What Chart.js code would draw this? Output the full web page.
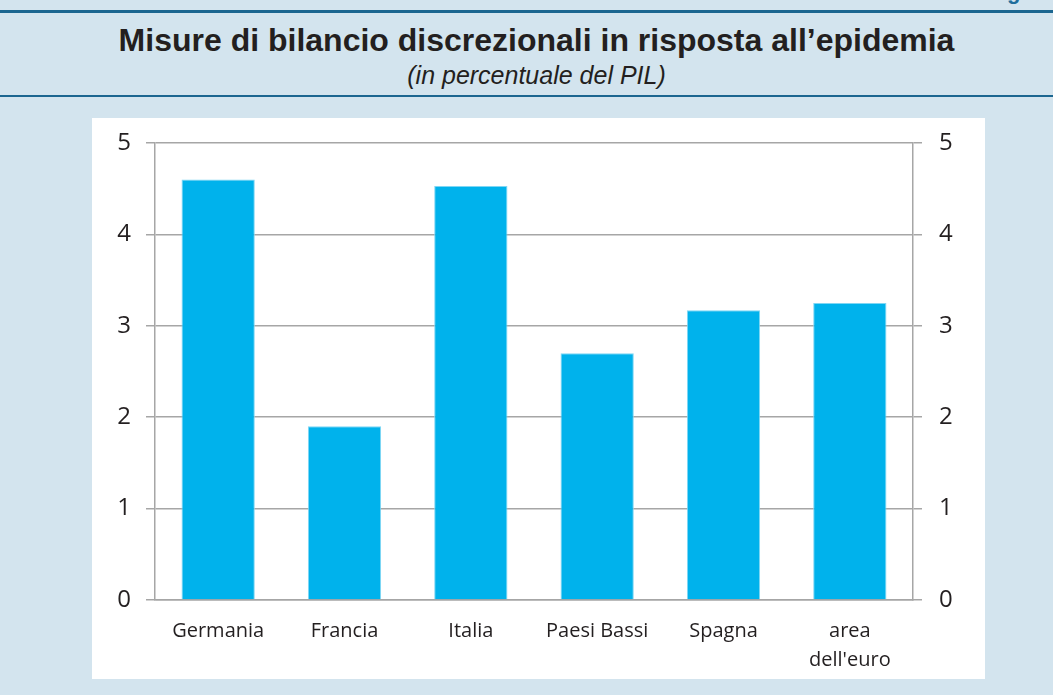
<!DOCTYPE html>
<html>
<head>
<meta charset="utf-8">
<script src="https://cdn.jsdelivr.net/npm/chart.js@4/dist/chart.umd.min.js"></script>
<style>
  html, body { margin: 0; padding: 0; }
  body { width: 1053px; height: 695px; background: #d3e4ee; position: relative; overflow: hidden; font-family: "Liberation Sans", Arial, sans-serif; }
  #fig { position: absolute; right: -20px; top: -21px; color: #1f6e9c; font-weight: bold; font-size: 22px; }
  #topline { position: absolute; left: 0; right: 0; top: 10px; height: 3px; background: #1b6690; }
  #midline { position: absolute; left: 0; right: 0; top: 95px; height: 2px; background: #1b6690; }
  #title { position: absolute; left: 0; width: 1073px; top: 22px; text-align: center; font-weight: bold; font-size: 32px; color: #231f20; }
  #sub { position: absolute; left: 0; width: 1073px; top: 61px; text-align: center; font-style: italic; font-size: 25px; color: #231f20; }
  #panel { position: absolute; left: 92px; top: 118px; width: 893px; height: 561px; background: #fff; }
</style>
</head>
<body>
<div id="fig">Figura 3</div>
<div id="topline"></div>
<div id="title">Misure di bilancio discrezionali in risposta all’epidemia</div>
<div id="sub">(in percentuale del PIL)</div>
<div id="midline"></div>
<div id="panel"><canvas id="myChart" width="893" height="561"></canvas></div>
<script>
// dati
const paesi = ["Germania", "Francia", "Italia", "Paesi Bassi", "Spagna", ["area", "dell'euro"]];
const misure = [4.6, 1.9, 4.53, 2.7, 3.17, 3.25];
const tickValori = [0, 1, 2, 3, 4, 5];

const ctx = document.getElementById("myChart").getContext("2d");
const grigio = "#a6a6a6";
const fontTick = { family: "'Open Sans', sans-serif", size: 24 };

// larghezza fissa degli assi, niente padding extra per le etichette
function fissaAsse(w) {
  return (s) => { s.width = w; s.paddingTop = 0; s.paddingBottom = 0; };
}

const config = {
  type: "bar",
  data: {
    labels: paesi,
    datasets: [{
      data: misure,
      backgroundColor: "#00b2ec",
      borderColor: "#7fd6f4",
      borderWidth: 1,
      barPercentage: 0.58,
      categoryPercentage: 1
    }]
  },
  options: {
    responsive: false,
    animation: false,
    layout: { padding: { top: 25, left: 0, right: 0, bottom: 0 } },
    plugins: { legend: { display: false }, tooltip: { enabled: false } },
    scales: {
      x: {
        grid: { drawOnChartArea: false, drawTicks: false },
        border: { color: grigio, width: 1.5 },
        ticks: { color: "#231f20", font: { family: "'Open Sans', sans-serif", size: 20, lineHeight: 1.45 }, padding: 17, maxRotation: 0 },
        afterFit: (s) => { s.height = 79; s.paddingLeft = 0; s.paddingRight = 0; }
      },
      y: {
        position: "left",
        min: 0, max: 5,
        afterBuildTicks: (s) => { s.ticks = tickValori.map(v => ({ value: v })); },
        grid: { color: grigio, lineWidth: 1.5, tickLength: 9 },
        border: { color: grigio, width: 1.5 },
        ticks: { color: "#231f20", font: fontTick, padding: 15 },
        afterFit: fissaAsse(63)
      },
      y2: {
        position: "right",
        min: 0, max: 5,
        afterBuildTicks: (s) => { s.ticks = tickValori.map(v => ({ value: v })); },
        grid: { drawOnChartArea: false, color: grigio, lineWidth: 1.5, tickLength: 9 },
        border: { color: grigio, width: 1.5 },
        ticks: { color: "#231f20", font: fontTick, padding: 17 },
        afterFit: fissaAsse(72)
      }
    }
  }
};

const myChart = new Chart(ctx, config);
</script>
</body>
</html>
